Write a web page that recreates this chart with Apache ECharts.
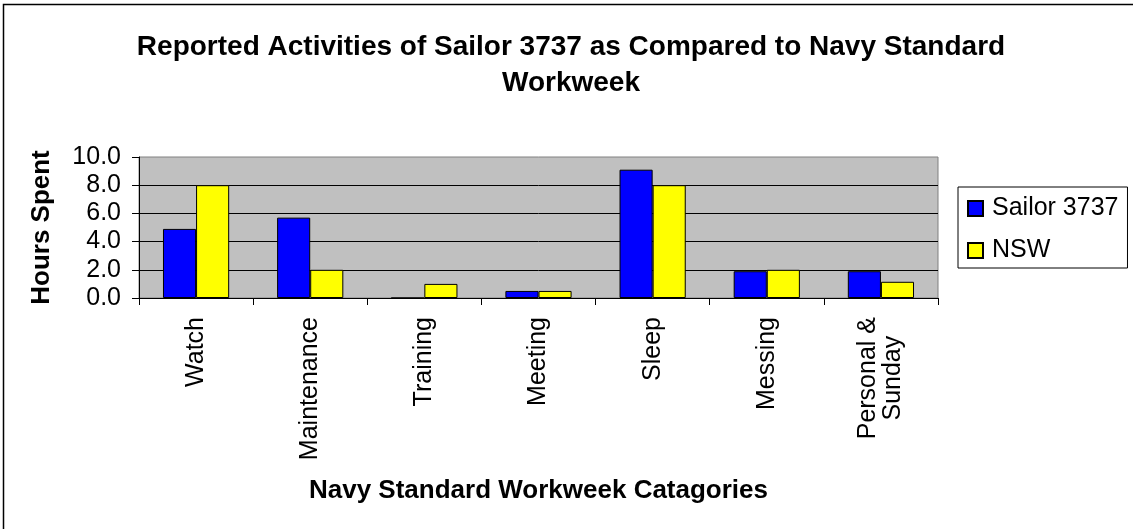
<!DOCTYPE html>
<html>
<head>
<meta charset="utf-8">
<script src="https://cdn.jsdelivr.net/npm/echarts@6/dist/echarts.min.js"></script>
<style>
html,body{margin:0;padding:0;background:#fff;}
#chart{width:1133px;height:529px;}
</style>
</head>
<body>
<div id="chart"></div>
<script>
var categories = ['Watch', 'Maintenance', 'Training', 'Meeting', 'Sleep', 'Messing', 'Personal &\nSunday'];
var sailor3737 = [4.9, 5.7, 0, 0.5, 9.1, 1.9, 1.9];
var nsw = [8, 2, 1, 0.5, 8, 2, 1.15];
var yTicks = [0, 2, 4, 6, 8, 10];

var FONT = "Arial, 'Liberation Sans', sans-serif";
var chart = echarts.init(document.getElementById('chart'), null, {renderer: 'canvas'});
chart.setOption({
  backgroundColor: '#ffffff',
  animation: false,
  title: {
    text: 'Reported Activities of Sailor 3737 as Compared to Navy Standard\nWorkweek',
    left: 566,
    top: 24,
    textAlign: 'center',
    textStyle: {fontFamily: FONT, fontSize: 28, fontWeight: 'bold', color: '#000', lineHeight: 36}
  },
  legend: {
    orient: 'vertical',
    left: 958,
    top: 187,
    padding: [9, 9, 5, 9],
    borderColor: '#000',
    borderWidth: 1,
    itemWidth: 15,
    itemHeight: 15,
    itemGap: 17,
    icon: 'rect',
    textStyle: {fontFamily: FONT, fontSize: 25, color: '#000', padding: [0, 0, 0, 4]},
    data: ['Sailor 3737', 'NSW']
  },
  graphic: [{
    type: 'rect',
    shape: {x: 3.5, y: 4.5, width: 1140, height: 540},
    style: {fill: 'none', stroke: '#000', lineWidth: 1.5},
    silent: true
  }],
  grid: {
    left: 139, right: 195, top: 157, bottom: 231,
    show: true, backgroundColor: '#C0C0C0', borderColor: '#808080', borderWidth: 1
  },
  xAxis: {
    type: 'category',
    data: categories,
    name: 'Navy Standard Workweek Catagories',
    nameLocation: 'middle',
    nameGap: 180,
    nameTextStyle: {fontFamily: FONT, fontSize: 26, fontWeight: 'bold', color: '#000'},
    axisLine: {lineStyle: {color: '#000', width: 1}},
    axisTick: {show: true, length: 7, lineStyle: {color: '#000'}},
    axisLabel: {
      rotate: 90, margin: 19, fontFamily: FONT, fontSize: 25, color: '#000', interval: 0,
      formatter: function (v) {
        if (v.indexOf('\n') < 0) return v;
        return v.split('\n').map(function (s) { return '{c|' + s + '}'; }).join('\n');
      },
      rich: {c: {align: 'center', fontFamily: FONT, fontSize: 25, color: '#000'}}
    }
  },
  yAxis: {
    type: 'value',
    min: yTicks[0], max: yTicks[yTicks.length - 1], interval: 2,
    name: 'Hours Spent',
    nameLocation: 'middle',
    nameGap: 84,
    nameTextStyle: {fontFamily: FONT, fontSize: 26, fontWeight: 'bold', color: '#000'},
    axisLine: {show: true, lineStyle: {color: '#000', width: 1}},
    axisTick: {show: true, length: 7, lineStyle: {color: '#000'}},
    axisLabel: {margin: 18, fontFamily: FONT, fontSize: 25, color: '#000', formatter: function (v) { return v.toFixed(1); }},
    splitLine: {show: true, showMaxLine: false, lineStyle: {color: '#000', width: 1}}
  },
  series: [{
    name: 'Sailor 3737',
    type: 'bar',
    data: sailor3737,
    barGap: '0%',
    barCategoryGap: '42%',
    itemStyle: {color: '#0000FF', borderColor: '#000', borderWidth: 1}
  }, {
    name: 'NSW',
    type: 'bar',
    data: nsw,
    itemStyle: {color: '#FFFF00', borderColor: '#000', borderWidth: 1}
  }]
});
</script>
</body>
</html>
